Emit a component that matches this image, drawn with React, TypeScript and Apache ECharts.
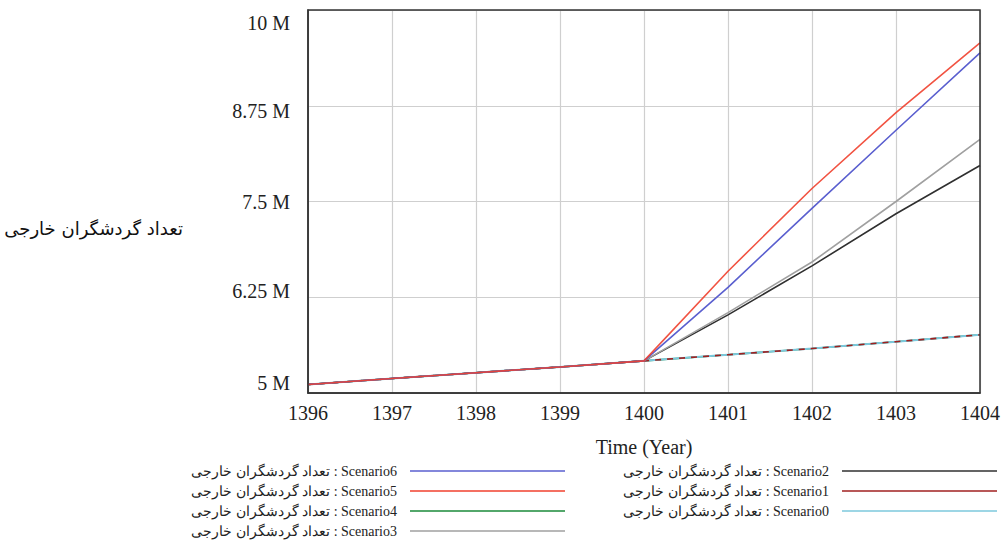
import React, { useEffect, useRef } from "react";
import * as echarts from "echarts";

const years = [1396, 1397, 1398, 1399, 1400, 1401, 1402, 1403, 1404];
const yTickLabels = ["5 M", "6.25 M", "7.5 M", "8.75 M", "10 M"];
const varName = "تعداد گردشگران خارجی";

// values in millions
const scenario6 = [5.11, 5.19, 5.265, 5.34, 5.42, 6.38, 7.41, 8.43, 9.44];
const scenario5 = [5.11, 5.19, 5.265, 5.34, 5.42, 6.59, 7.67, 8.66, 9.57];
const scenario4 = [5.11, 5.19, 5.265, 5.34, 5.42, 5.5, 5.58, 5.67, 5.76];
const scenario3 = [5.11, 5.19, 5.265, 5.34, 5.42, 6.05, 6.71, 7.5, 8.31];
const scenario2 = [5.11, 5.19, 5.265, 5.34, 5.42, 6.02, 6.66, 7.34, 7.97];
const scenario1 = [5.11, 5.19, 5.265, 5.34, 5.42, 5.5, 5.58, 5.67, 5.76];
const scenario0 = [5.11, 5.19, 5.265, 5.34, 5.42, 5.5, 5.58, 5.67, 5.76];

const colors: Record<string, string> = {
  Scenario6: "#5a5fcf",
  Scenario5: "#f0402e",
  Scenario4: "#1a8a3a",
  Scenario3: "#a0a0a0",
  Scenario2: "#303030",
  Scenario1: "#a02020",
  Scenario0: "#7cc8dc",
};

const label = (s: string) => varName + " : " + s;

export default function App() {
  const ref = useRef<HTMLDivElement>(null);
  useEffect(() => {
    if (!ref.current) return;
    const chart = echarts.init(ref.current, null, { renderer: "svg" });
    const toPts = (arr: number[]) => arr.map((v, i) => [years[i], v * 1e6]);
    const mk = (name: string, arr: number[], extra: any = {}) => ({
      name: label(name),
      type: "line",
      data: toPts(arr),
      symbol: "none",
      color: colors[name],
      lineStyle: { width: 1.6, color: colors[name], ...(extra.lineStyle || {}) },
      z: extra.z || 2,
    });
    const serif = "'Liberation Serif', 'Times New Roman', 'DejaVu Serif', serif";
    const shifts = [-10, -6, 0, 5, 13];
    const rich: any = {};
    shifts.forEach((s, i) => {
      rich["l" + i] = {
        fontFamily: serif,
        fontSize: 20,
        color: "#222",
        padding: s >= 0 ? [2 * s, 0, 0, 0] : [0, 0, -2 * s, 0],
      };
    });
    const legendCommon = {
      orient: "vertical",
      align: "right",
      icon: "rect",
      itemWidth: 155,
      itemHeight: 1.5,
      itemGap: 6,
      padding: 0,
      height: 76,
      textStyle: { fontFamily: serif, fontSize: 14, lineHeight: 14, color: "#222", padding: [0, 8, 0, 0] },
    };
    chart.setOption({
      animation: false,
      grid: { left: 308, right: 27, top: 10, bottom: 147, containLabel: false },
      xAxis: {
        type: "value",
        min: 1396,
        max: 1404,
        interval: 1,
        name: "Time (Year)",
        nameLocation: "middle",
        nameGap: 44,
        nameTextStyle: { fontFamily: serif, fontSize: 20, color: "#222" },
        axisLine: { show: true, lineStyle: { color: "#333", width: 1.5 } },
        axisTick: { show: false },
        axisLabel: { fontFamily: serif, fontSize: 20, color: "#222", margin: 10, formatter: (v: number) => String(v) },
        splitLine: { show: true, lineStyle: { color: "#cfcfcf", width: 1.2 } },
      },
      yAxis: {
        type: "value",
        min: 5e6,
        max: 10e6,
        interval: 1.25e6,
        axisLine: { show: true, lineStyle: { color: "#333", width: 1.5 } },
        axisTick: { show: false },
        axisLabel: {
          margin: 18,
          formatter: (v: number) => {
            const i = Math.round((v - 5e6) / 1.25e6);
            return "{l" + i + "|" + yTickLabels[i] + "}";
          },
          rich,
        },
        splitLine: { show: true, lineStyle: { color: "#cfcfcf", width: 1.2 } },
      },
      graphic: [
        {
          type: "rect",
          shape: { x: 308, y: 10, width: 672, height: 383 },
          style: { fill: "none", stroke: "#333", lineWidth: 1.5 },
          z: 10,
          silent: true,
        },
        {
          type: "text",
          x: 183,
          y: 228,
          style: {
            text: varName,
            fontFamily: "'DejaVu Sans', 'Noto Sans', sans-serif",
            fontSize: 18,
            fill: "#111",
            align: "right",
            verticalAlign: "middle",
          },
        },
      ],
      legend: [
        {
          ...legendCommon,
          right: 442,
          top: 464,
          data: ["Scenario6", "Scenario5", "Scenario4", "Scenario3"].map(label),
        },
        {
          ...legendCommon,
          right: 10,
          top: 464,
          data: ["Scenario2", "Scenario1", "Scenario0"].map(label),
        },
      ],
      series: [
        mk("Scenario4", scenario4, { z: 2 }),
        mk("Scenario0", scenario0, { z: 3, lineStyle: { width: 2 } }),
        mk("Scenario1", scenario1, { z: 4, lineStyle: { type: [6, 6] } }),
        mk("Scenario2", scenario2, { z: 5 }),
        mk("Scenario3", scenario3, { z: 5 }),
        mk("Scenario6", scenario6, { z: 6 }),
        mk("Scenario5", scenario5, { z: 7, lineStyle: { opacity: 0.9 } }),
      ],
    });
    return () => chart.dispose();
  }, []);
  return <div ref={ref} style={{ position: "absolute", left: 0, top: 0, width: 1007, height: 540 }} />;
}
